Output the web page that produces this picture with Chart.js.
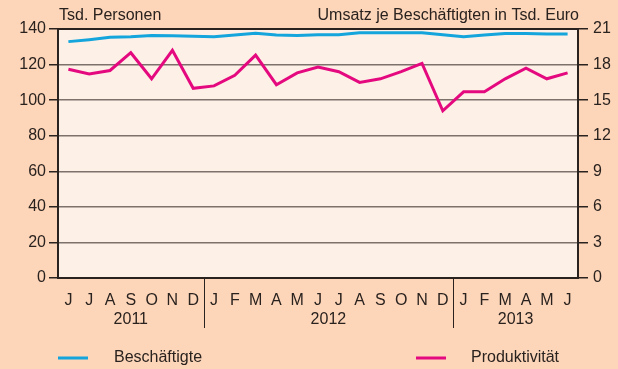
<!DOCTYPE html>
<html lang="de">
<head>
    <meta charset="UTF-8">
    <title>Beschäftigte und Produktivität</title>
    <script src="https://cdn.jsdelivr.net/npm/chart.js"></script>
    <style>
        body {
            margin: 0;
            padding: 0;
            background-color: #fdd6ba;
        }
        canvas {
            display: block;
        }
    </style>
</head>
<body>
    <canvas id="chart" width="618" height="369"></canvas>
    <script>
        // Monate Juni 2011 bis Juni 2013
        const months = ['J', 'J', 'A', 'S', 'O', 'N', 'D',
                        'J', 'F', 'M', 'A', 'M', 'J', 'J', 'A', 'S', 'O', 'N', 'D',
                        'J', 'F', 'M', 'A', 'M', 'J'];
        const years = [
            { label: '2011', from: 0, to: 6 },
            { label: '2012', from: 7, to: 18 },
            { label: '2013', from: 19, to: 24 }
        ];
        // Beschäftigte in Tsd. Personen (linke Achse)
        const beschaeftigte = [132.9, 134.0, 135.3, 135.7, 136.4, 136.2, 135.9,
                               135.7, 136.6, 137.6, 136.6, 136.4, 136.8, 136.8, 137.9, 137.9, 137.9, 137.9, 136.8,
                               135.7, 136.6, 137.4, 137.4, 137.2, 137.2];
        // Umsatz je Beschäftigten in Tsd. Euro (rechte Achse)
        const produktivitaet = [17.6, 17.2, 17.5, 19.0, 16.8, 19.2, 16.0,
                                16.2, 17.1, 18.8, 16.3, 17.3, 17.8, 17.4, 16.5, 16.8, 17.4, 18.1, 14.1,
                                15.7, 15.7, 16.8, 17.7, 16.8, 17.3];

        const textColor = '#2a221e';
        const font = '"Liberation Sans", Arial, sans-serif';
        const blue = '#13a5dc';
        const pink = '#e5097f';

        const extras = {
            id: 'extras',
            beforeDraw(chart) {
                const { ctx, chartArea: a } = chart;
                ctx.save();
                ctx.fillStyle = '#fdf0e7';
                ctx.fillRect(a.left, a.top, a.right - a.left, a.bottom - a.top);
                ctx.restore();
            },
            afterDraw(chart) {
                const { ctx, chartArea: a } = chart;
                const x = chart.scales.x;
                ctx.save();
                // Rahmen
                ctx.strokeStyle = textColor;
                ctx.lineWidth = 2;
                ctx.strokeRect(a.left, a.top, a.right - a.left, a.bottom - a.top);

                // Achsentitel
                ctx.fillStyle = textColor;
                ctx.font = '16px ' + font;
                ctx.textBaseline = 'middle';
                ctx.textAlign = 'left';
                ctx.fillText('Tsd. Personen', 59, 16);
                ctx.textAlign = 'right';
                ctx.fillText('Umsatz je Beschäftigten in Tsd. Euro', 579, 16);

                // Jahre und Trennlinien
                ctx.textAlign = 'center';
                years.forEach((y, i) => {
                    const cx = (x.getPixelForValue(y.from) + x.getPixelForValue(y.to)) / 2;
                    ctx.fillText(y.label, cx, 320);
                    if (i > 0) {
                        const sx = Math.round((x.getPixelForValue(y.from - 1) + x.getPixelForValue(y.from)) / 2) + 0.5;
                        ctx.lineWidth = 1;
                        ctx.beginPath();
                        ctx.moveTo(sx, a.bottom);
                        ctx.lineTo(sx, 328);
                        ctx.stroke();
                    }
                });

                // Legende
                const legend = [
                    { text: 'Beschäftigte', color: blue, x: 58, tx: 114 },
                    { text: 'Produktivität', color: pink, x: 416, tx: 471 }
                ];
                ctx.textAlign = 'left';
                legend.forEach(l => {
                    ctx.strokeStyle = l.color;
                    ctx.lineWidth = 3;
                    ctx.beginPath();
                    ctx.moveTo(l.x, 358);
                    ctx.lineTo(l.x + 30, 358);
                    ctx.stroke();
                    ctx.fillText(l.text, l.tx, 358);
                });
                ctx.restore();
            }
        };

        new Chart(document.getElementById('chart'), {
            type: 'line',
            data: {
                labels: months,
                datasets: [{
                    label: 'Beschäftigte',
                    data: beschaeftigte,
                    borderColor: blue,
                    borderWidth: 3,
                    pointRadius: 0,
                    tension: 0,
                    yAxisID: 'y'
                }, {
                    label: 'Produktivität',
                    data: produktivitaet,
                    borderColor: pink,
                    borderWidth: 3,
                    pointRadius: 0,
                    tension: 0,
                    yAxisID: 'y2'
                }]
            },
            options: {
                responsive: false,
                animation: false,
                layout: { padding: { top: 29, left: 0, right: 0, bottom: 0 } },
                plugins: {
                    legend: { display: false },
                    tooltip: { enabled: false }
                },
                scales: {
                    x: {
                        offset: true,
                        grid: { display: false, drawTicks: false },
                        border: { display: false },
                        ticks: {
                            color: textColor,
                            font: { family: font, size: 16 },
                            padding: 13,
                            autoSkip: false,
                            maxRotation: 0
                        },
                        afterFit: s => { s.height = 91; }
                    },
                    y: {
                        position: 'left',
                        min: 0,
                        max: 140,
                        ticks: {
                            stepSize: 20,
                            color: textColor,
                            font: { family: font, size: 16 },
                            padding: 3
                        },
                        grid: {
                            color: '#7c716b',
                            lineWidth: 1.5,
                            tickColor: textColor,
                            tickLength: 9
                        },
                        border: { display: false },
                        afterFit: s => { s.width = 58; }
                    },
                    y2: {
                        position: 'right',
                        min: 0,
                        max: 21,
                        ticks: {
                            stepSize: 3,
                            color: textColor,
                            font: { family: font, size: 16 },
                            padding: 5
                        },
                        grid: {
                            drawOnChartArea: false,
                            tickColor: textColor,
                            tickLength: 10,
                            lineWidth: 1.5
                        },
                        border: { display: false },
                        afterFit: s => { s.width = 40; }
                    }
                }
            },
            plugins: [extras]
        });
    </script>
</body>
</html>
